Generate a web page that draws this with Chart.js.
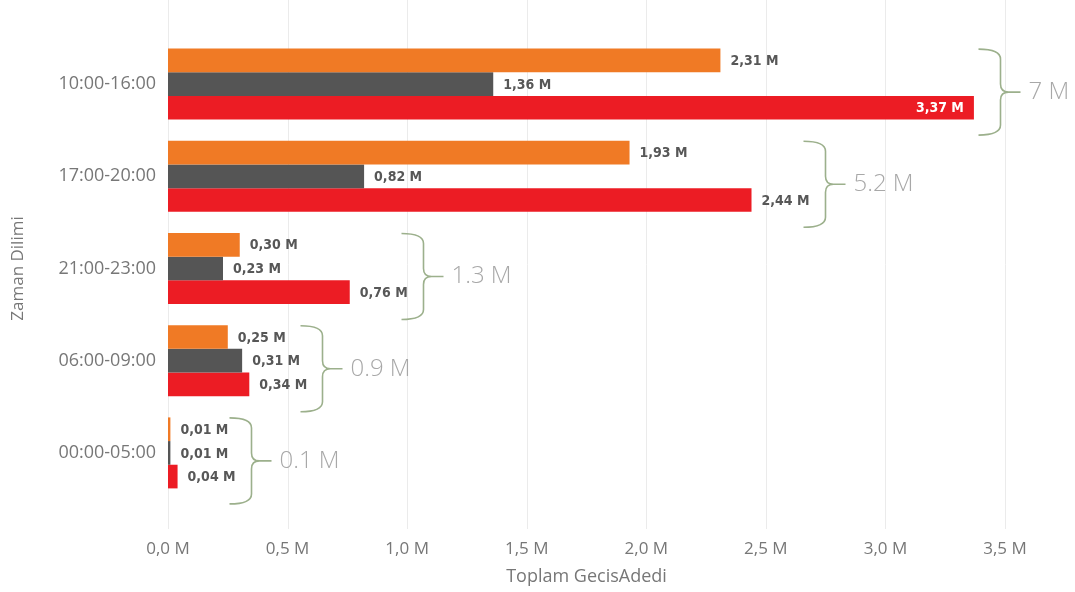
<!DOCTYPE html>
<html>
<head>
    <title>Zaman Dilimi - Toplam GecisAdedi</title>
    <script src="https://cdn.jsdelivr.net/npm/chart.js"></script>
    <style>
        body {
            margin: 0;
            background: #ffffff;
        }
        .wrap {
            width: 1075px;
            height: 592px;
        }
    </style>
</head>
<body>
    <div class="wrap">
        <canvas id="barChart"></canvas>
    </div>

<script>
    // data
    const categories = ['10:00-16:00', '17:00-20:00', '21:00-23:00', '06:00-09:00', '00:00-05:00'];
    const orangeValues = [2.31, 1.93, 0.30, 0.25, 0.01];
    const grayValues = [1.36, 0.82, 0.23, 0.31, 0.01];
    const redValues = [3.37, 2.44, 0.76, 0.34, 0.04];
    const groupTotals = ['7 M', '5.2 M', '1.3 M', '0.9 M', '0.1 M'];

    const fmtM = (v, d) => v.toFixed(d).replace('.', ',') + ' M';

    Chart.defaults.font.family = "'Open Sans', sans-serif";
    Chart.defaults.color = '#777777';

    // vertical grid lines, drawn a bit taller than the plot area
    const gridLines = {
        id: 'gridLines',
        beforeDatasetsDraw(chart) {
            const ctx = chart.ctx;
            const x = chart.scales.x;
            ctx.save();
            ctx.strokeStyle = '#ebebeb';
            ctx.lineWidth = 1;
            x.ticks.forEach(t => {
                const px = Math.round(x.getPixelForValue(t.value)) + 0.5;
                ctx.beginPath();
                ctx.moveTo(px, 0);
                ctx.lineTo(px, chart.chartArea.bottom + 30);
                ctx.stroke();
            });
            ctx.restore();
        }
    };

    // value labels + curly brackets with totals
    const barLabels = {
        id: 'barLabels',
        afterDatasetsDraw(chart) {
            const ctx = chart.ctx;
            const area = chart.chartArea;
            const rightEdge = categories.map(() => 0);
            ctx.save();
            ctx.font = "bold 14px 'DejaVu Sans Condensed', 'DejaVu Sans', sans-serif";
            ctx.textBaseline = 'middle';
            chart.data.datasets.forEach((ds, di) => {
                chart.getDatasetMeta(di).data.forEach((bar, i) => {
                    const txt = fmtM(ds.data[i], 2);
                    const w = ctx.measureText(txt).width;
                    if (bar.x + 10 + w > area.right) {
                        ctx.fillStyle = '#ffffff';
                        ctx.textAlign = 'right';
                        ctx.fillText(txt, bar.x - 10, bar.y + 1);
                        rightEdge[i] = Math.max(rightEdge[i], bar.x + 11);
                    } else {
                        ctx.fillStyle = '#575757';
                        ctx.textAlign = 'left';
                        ctx.fillText(txt, bar.x + 10, bar.y + 1);
                        rightEdge[i] = Math.max(rightEdge[i], bar.x + 10 + w);
                    }
                });
            });

            const y = chart.scales.y;
            categories.forEach((c, i) => {
                const vx = Math.round(rightEdge[i] + 15) + 0.5;
                const mid = y.getPixelForValue(i) + 8;
                const top = mid - 43;
                const bottom = mid + 43;
                ctx.strokeStyle = '#9cb08c';
                ctx.lineWidth = 1.6;
                ctx.beginPath();
                ctx.moveTo(vx - 22, top);
                ctx.quadraticCurveTo(vx, top, vx, top + 10);
                ctx.lineTo(vx, mid - 8);
                ctx.quadraticCurveTo(vx, mid, vx + 8, mid);
                ctx.lineTo(vx + 20, mid);
                ctx.moveTo(vx + 8, mid);
                ctx.quadraticCurveTo(vx, mid, vx, mid + 8);
                ctx.lineTo(vx, bottom - 10);
                ctx.quadraticCurveTo(vx, bottom, vx - 22, bottom);
                ctx.stroke();

                ctx.font = "300 24px 'Open Sans', sans-serif";
                ctx.fillStyle = '#a8a8a8';
                ctx.textAlign = 'left';
                ctx.fillText(groupTotals[i], vx + 28, mid);
            });
            ctx.restore();
        }
    };

    new Chart(document.getElementById('barChart'), {
        type: 'bar',
        data: {
            labels: categories,
            datasets: [
                { label: 'Seri 1', data: orangeValues, backgroundColor: '#f07a25' },
                { label: 'Seri 2', data: grayValues, backgroundColor: '#555555' },
                { label: 'Seri 3', data: redValues, backgroundColor: '#ec1c24' }
            ]
        },
        options: {
            indexAxis: 'y',
            responsive: true,
            maintainAspectRatio: false,
            animation: false,
            layout: { padding: { top: 38, right: 70, left: 0, bottom: 0 } },
            datasets: {
                bar: { categoryPercentage: 0.77, barPercentage: 1.0, borderWidth: 0 }
            },
            scales: {
                x: {
                    min: 0,
                    max: 3.5,
                    ticks: {
                        stepSize: 0.5,
                        padding: 40,
                        font: { size: 17 },
                        color: '#777777',
                        callback: v => fmtM(v, 1)
                    },
                    grid: { display: false, drawTicks: false },
                    border: { display: false },
                    title: {
                        display: true,
                        text: 'Toplam GecisAdedi',
                        font: { size: 18 },
                        color: '#777777',
                        padding: { top: 3, bottom: 4 }
                    },
                    afterFit: s => { s.height = 93; }
                },
                y: {
                    ticks: {
                        padding: 12,
                        font: { size: 18 },
                        color: '#777777'
                    },
                    grid: { display: false, drawTicks: false },
                    border: { display: false },
                    title: {
                        display: true,
                        text: 'Zaman Dilimi',
                        font: { size: 17 },
                        color: '#777777',
                        padding: { top: 8, bottom: 4 }
                    },
                    afterFit: s => { s.width = 168; }
                }
            },
            plugins: {
                legend: { display: false },
                tooltip: { enabled: false }
            }
        },
        plugins: [gridLines, barLabels]
    });
</script>
</body>
</html>
